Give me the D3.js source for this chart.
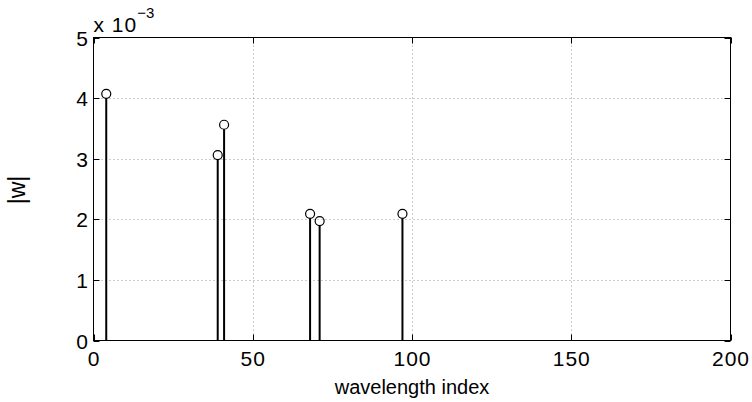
<!DOCTYPE html>
<html>
<head>
<meta charset="utf-8">
<script src="https://cdn.jsdelivr.net/npm/d3@7"></script>
<style>
  html, body { margin: 0; padding: 0; background: #fff; }
  svg text { font-family: "Liberation Sans", Arial, Helvetica, sans-serif; fill: #000; }
</style>
</head>
<body>
<svg id="chart" width="752" height="402"></svg>
<script>
// Selected wavelength indices and their weight magnitudes |w|
const indices = [4, 39, 41, 68, 71, 97];
const weights = [4.07e-3, 3.06e-3, 3.56e-3, 2.09e-3, 1.97e-3, 2.09e-3];
const xTicks = [0, 50, 100, 150, 200];
const yTicks = [0, 1, 2, 3, 4, 5];   // in units of 1e-3

const svg = d3.select("#chart");
const plotL = 93.5, plotR = 730.5, plotT = 37.5, plotB = 340.5;

const x = d3.scaleLinear().domain([0, 200]).range([plotL, plotR]);
const y = d3.scaleLinear().domain([0, 5e-3]).range([plotB, plotT]);

// dotted grid
const grid = svg.append("g").attr("stroke", "#999").attr("stroke-width", 1)
  .attr("stroke-dasharray", "1,3");
grid.selectAll(".gx").data(xTicks.slice(1, -1)).join("line")
  .attr("x1", d => Math.round(x(d)) + 0.5).attr("x2", d => Math.round(x(d)) + 0.5)
  .attr("y1", plotT).attr("y2", plotB);
grid.selectAll(".gy").data(yTicks.slice(1, -1)).join("line")
  .attr("x1", plotL).attr("x2", plotR)
  .attr("y1", d => Math.round(y(d * 1e-3)) + 0.5).attr("y2", d => Math.round(y(d * 1e-3)) + 0.5);

// box
svg.append("rect").attr("x", plotL).attr("y", plotT)
  .attr("width", plotR - plotL).attr("height", plotB - plotT)
  .attr("fill", "none").attr("stroke", "#000").attr("stroke-width", 1);

// inward tick marks on all four sides
const tk = svg.append("g").attr("stroke", "#000").attr("stroke-width", 1);
xTicks.forEach(d => {
  const px = Math.round(x(d)) + 0.5;
  tk.append("line").attr("x1", px).attr("x2", px).attr("y1", plotB).attr("y2", plotB - 6);
  tk.append("line").attr("x1", px).attr("x2", px).attr("y1", plotT).attr("y2", plotT + 6);
});
yTicks.forEach(d => {
  const py = Math.round(y(d * 1e-3)) + 0.5;
  tk.append("line").attr("x1", plotL).attr("x2", plotL + 6).attr("y1", py).attr("y2", py);
  tk.append("line").attr("x1", plotR).attr("x2", plotR - 6).attr("y1", py).attr("y2", py);
});

// tick labels
svg.append("g").selectAll("text").data(xTicks).join("text")
  .attr("x", d => x(d) + 0.5).attr("y", plotB + 25.5)
  .attr("text-anchor", "middle").attr("font-size", 21).attr("letter-spacing", 1)
  .text(d => d);
svg.append("g").selectAll("text").data(yTicks).join("text")
  .attr("x", plotL - 5.5).attr("y", d => y(d * 1e-3) + 8)
  .attr("text-anchor", "end").attr("font-size", 21).text(d => d);

// exponent label
const ex = svg.append("text").attr("x", 93.5).attr("y", 32.3)
  .attr("font-size", 21).attr("letter-spacing", 1);
ex.append("tspan").text("x 10");
ex.append("tspan").attr("dy", -14.5).attr("font-size", 15).attr("letter-spacing", 0).text("\u22123");

// axis titles
svg.append("text").attr("x", (plotL + plotR) / 2).attr("y", 394)
  .attr("text-anchor", "middle").attr("font-size", 20).text("wavelength index");
svg.append("text").attr("transform", "translate(25,190) rotate(-90)")
  .attr("text-anchor", "middle").attr("font-size", 23).text("|w|");

// stems
const data = indices.map((d, i) => ({ i: d, w: weights[i] }));
svg.append("g").selectAll("line").data(data).join("line")
  .attr("x1", d => x(d.i)).attr("x2", d => x(d.i))
  .attr("y1", y(0)).attr("y2", d => y(d.w) + 4.5)
  .attr("stroke", "#000").attr("stroke-width", 2);
svg.append("g").selectAll("circle").data(data).join("circle")
  .attr("cx", d => x(d.i)).attr("cy", d => y(d.w)).attr("r", 4.5)
  .attr("fill", "none").attr("stroke", "#000").attr("stroke-width", 1.2);
</script>
</body>
</html>
